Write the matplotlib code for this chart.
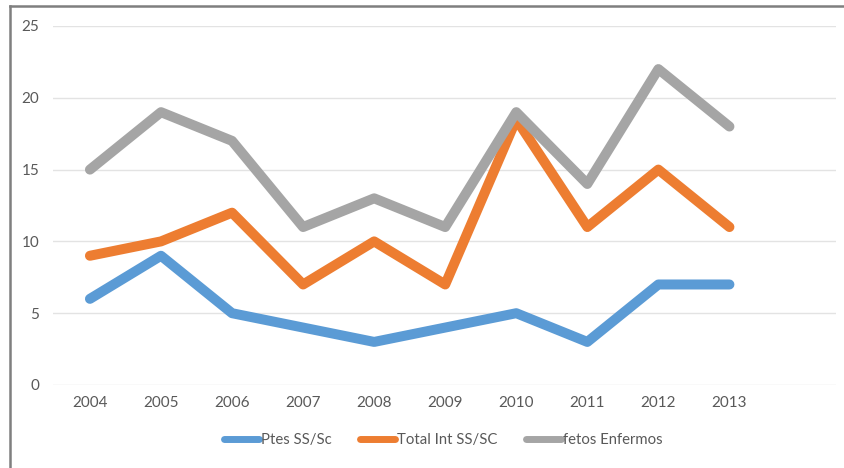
import matplotlib
matplotlib.use("Agg")
import matplotlib.pyplot as plt
from matplotlib.lines import Line2D

plt.rcParams['font.family'] = ['Lato', 'DejaVu Sans']

years = ["2004", "2005", "2006", "2007", "2008", "2009", "2010", "2011", "2012", "2013"]
ptes = [6, 9, 5, 4, 3, 4, 5, 3, 7, 7]
total_int = [9, 10, 12, 7, 10, 7, 18.5, 11, 15, 11]
fetos = [15, 19, 17, 11, 13, 11, 19, 14, 22, 18]
series_names = ["Ptes SS/Sc", "Total Int SS/SC", "fetos Enfermos"]
colors = ["#5B9BD5", "#ED7D31", "#A5A5A5"]

fig = plt.figure(figsize=(8.44, 4.68), dpi=100)
ax = fig.add_axes([53/844, 1-385/468, (836-53)/844, (385-26)/468])

x = list(range(len(years)))
for vals, name, c in zip([ptes, total_int, fetos], series_names, colors):
    ax.plot(x, vals, color=c, lw=7.2, solid_capstyle="round", solid_joinstyle="round", label=name)

ax.set_xlim(-0.52, 10.5)
ax.set_ylim(0, 25)
ax.set_yticks([0, 5, 10, 15, 20, 25])
ax.set_xticks(x)
ax.set_xticklabels(years)
ax.grid(axis="y", color="#E3E3E3", lw=1.0)
ax.set_axisbelow(True)
for s in ax.spines.values():
    s.set_visible(False)
ax.tick_params(length=0, colors="#595959", labelsize=11)
ax.tick_params(axis="y", pad=10)
ax.tick_params(axis="x", pad=8)

handles = [Line2D([0], [0], color=c, lw=5, solid_capstyle="round") for c in colors]
fig.legend(handles, series_names, loc="center", bbox_to_anchor=(443/844, 1-440/468),
           ncol=3, frameon=False, fontsize=10.7, labelcolor="#595959",
           handlelength=2.4, handletextpad=0.1, columnspacing=1.9)

fig.add_artist(Line2D([10/844, 10/844], [0, 1-6/468], transform=fig.transFigure, color="#7F7F7F", lw=1.8))
fig.add_artist(Line2D([10/844, 1], [1-6/468, 1-6/468], transform=fig.transFigure, color="#7F7F7F", lw=1.8))

fig.savefig("out.png", dpi=100)
